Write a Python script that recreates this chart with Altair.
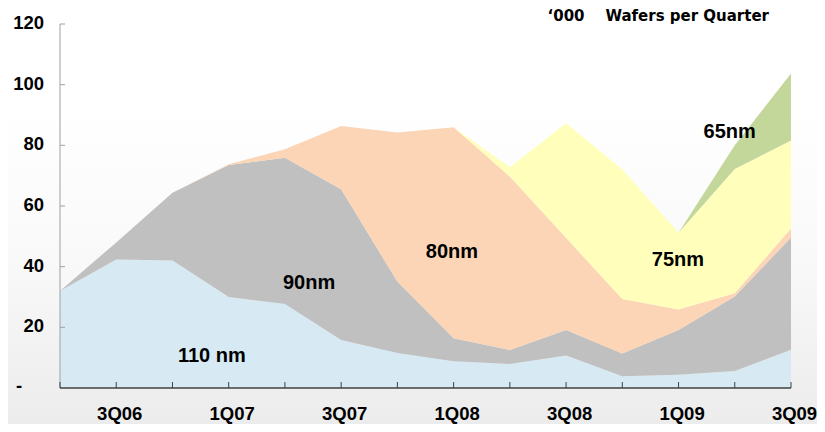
import altair as alt
import pandas as pd

quarters = ["2Q06", "3Q06", "4Q06", "1Q07", "2Q07", "3Q07", "4Q07",
            "1Q08", "2Q08", "3Q08", "4Q08", "1Q09", "2Q09", "3Q09"]

nm110 = [32, 42.4, 42, 30, 27.7, 15.8, 11.5, 8.8, 7.9, 10.7, 3.9, 4.4, 5.6, 12.6]
nm90 = [0, 5.6, 22.4, 43.5, 48.2, 49.7, 23.6, 7.6, 4.6, 8.4, 7.5, 14.7, 24.6, 37.0]
nm80 = [0, 0, 0, 0.3, 2.8, 20.9, 49.1, 69.6, 57.2, 30.4, 17.9, 6.8, 1.0, 3.0]
nm75 = [0, 0, 0, 0, 0, 0, 0, 0, 3.1, 37.8, 42.7, 25.3, 41.0, 29.0]
nm65 = [0, 0, 0, 0, 0, 0, 0, 0, 0, 0, 0, 0, 7.8, 22.1]

series_names = ["110 nm", "90nm", "80nm", "75nm", "65nm"]
series_values = [nm110, nm90, nm80, nm75, nm65]
series_colors = ["#d7eaf4", "#c0c0c0", "#fbd5b5", "#ffffbb", "#c4d79b"]

label_text = ["110 nm", "90nm", "80nm", "75nm", "65nm"]
label_x = [2.70, 4.43, 6.97, 10.99, 11.91]
label_y = [10.4, 34.7, 44.9, 42.3, 84.5]

y_ticks = [0, 20, 40, 60, 80, 100, 120]
title_text = "\u2018000\u00a0\u00a0\u00a0\u00a0Wafers per Quarter"

W, H = 731, 364

rows = []
for k, (name, vals) in enumerate(zip(series_names, series_values)):
    for i, v in enumerate(vals):
        rows.append({"i": i, "q": quarters[i], "series": name, "v": v, "k": k})
df = pd.DataFrame(rows)

labels_df = pd.DataFrame({"t": label_text, "x": label_x, "y": label_y})
xt_df = pd.DataFrame({"i": list(range(len(quarters)))})
yt_df = pd.DataFrame({"v": [t for t in y_ticks if t > 0]})
zero_df = pd.DataFrame({"v": [0], "t": ["-"]})
bg_df = pd.DataFrame({"a": [0]})
title_df = pd.DataFrame({"t": [title_text]})
xdom_df = pd.DataFrame({"a": [0], "b": [len(quarters) - 1], "v": [0]})
ydom_df = pd.DataFrame({"a": [0], "b": [120]})

qarr = "[" + ",".join("'" + q + "'" for q in quarters) + "]"
x_label_expr = "datum.value % 2 == 1 ? " + qarr + "[datum.value] : ''"

x_scale = alt.Scale(domain=[0, len(quarters) - 1], nice=False, zero=False)
y_scale = alt.Scale(domain=[0, 120], nice=False)

bg = alt.Chart(bg_df).mark_rect(
    fill=alt.Gradient(
        gradient="linear",
        stops=[alt.GradientStop(color="#ffffff", offset=0),
               alt.GradientStop(color="#ffffff", offset=0.25),
               alt.GradientStop(color="#f9f9f9", offset=0.6),
               alt.GradientStop(color="#ececec", offset=1)],
        x1=0, x2=0, y1=0, y2=1),
).encode(x=alt.value(-52), x2=alt.value(W + 26), y=alt.value(-16), y2=alt.value(H + 36))

areas = alt.Chart(df).mark_area(interpolate="linear", opacity=1).encode(
    x=alt.X("i:Q", scale=x_scale, title=None,
            axis=alt.Axis(values=list(range(len(quarters))),
                          labelExpr=x_label_expr, domain=False,
                          grid=False, ticks=False, tickSize=0,
                          labelFont="Liberation Sans", labelFontWeight="bold",
                          labelFontSize=18.5, labelColor="#000000",
                          labelPadding=16, labelOffset=3, labelFlush=False,
                          labelOverlap=False, zindex=1)),
    y=alt.Y("v:Q", stack="zero", scale=y_scale, title=None,
            axis=alt.Axis(values=y_ticks, domain=False,
                          labelExpr="datum.value == 0 ? '' : datum.label",
                          grid=False, ticks=False, tickSize=0,
                          labelFont="Liberation Sans", labelFontWeight="bold",
                          labelFontSize=18.5, labelColor="#000000",
                          labelPadding=16.5, labelOffset=-1.5, zindex=1)),
    color=alt.Color("series:N", scale=alt.Scale(domain=series_names, range=series_colors),
                    legend=None),
    order=alt.Order("k:Q"),
)

ydom = alt.Chart(ydom_df).mark_rule(color="#a0a0a0", strokeWidth=1).encode(
    y=alt.Y("a:Q", scale=y_scale), y2="b:Q", x=alt.value(0))

xdom = alt.Chart(xdom_df).mark_rule(color="#404040", strokeWidth=1.5).encode(
    x=alt.X("a:Q", scale=x_scale), x2="b:Q", y=alt.Y("v:Q", scale=y_scale))

xticks = alt.Chart(xt_df).mark_rule(color="#404040", strokeWidth=1).encode(
    x=alt.X("i:Q", scale=x_scale), y=alt.value(H), y2=alt.value(H - 6))

yticks = alt.Chart(yt_df).mark_rule(color="#a0a0a0", strokeWidth=1).encode(
    y=alt.Y("v:Q", scale=y_scale), x=alt.value(0), x2=alt.value(5))

zero = alt.Chart(zero_df).mark_text(
    font="Liberation Sans", fontWeight="bold", fontSize=18.5, color="#000000",
    align="center", baseline="middle", dy=-2).encode(
    y=alt.Y("v:Q", scale=y_scale), x=alt.value(-41), text="t:N")

labels = alt.Chart(labels_df).mark_text(
    font="Liberation Sans", fontWeight="bold", fontSize=20, color="#000000",
    align="center", baseline="middle").encode(
    x=alt.X("x:Q", scale=x_scale), y=alt.Y("y:Q", scale=y_scale), text="t:N")

title = alt.Chart(title_df).mark_text(
    font="DejaVu Sans", fontWeight="bold", fontSize=15, color="#000000",
    align="right", baseline="alphabetic").encode(
    x=alt.value(W - 22), y=alt.value(-3), text="t:N")

chart = alt.layer(bg, areas, ydom, xdom, xticks, yticks, zero, labels, title).properties(
    width=W, height=H,
    padding={"left": 52, "top": 16, "right": 26, "bottom": 36},
    autosize=alt.AutoSizeParams(type="none"),
).configure(background="#ffffff").configure_view(stroke=None)

chart.save("out.html", embed_options={"renderer": "svg", "actions": False})
